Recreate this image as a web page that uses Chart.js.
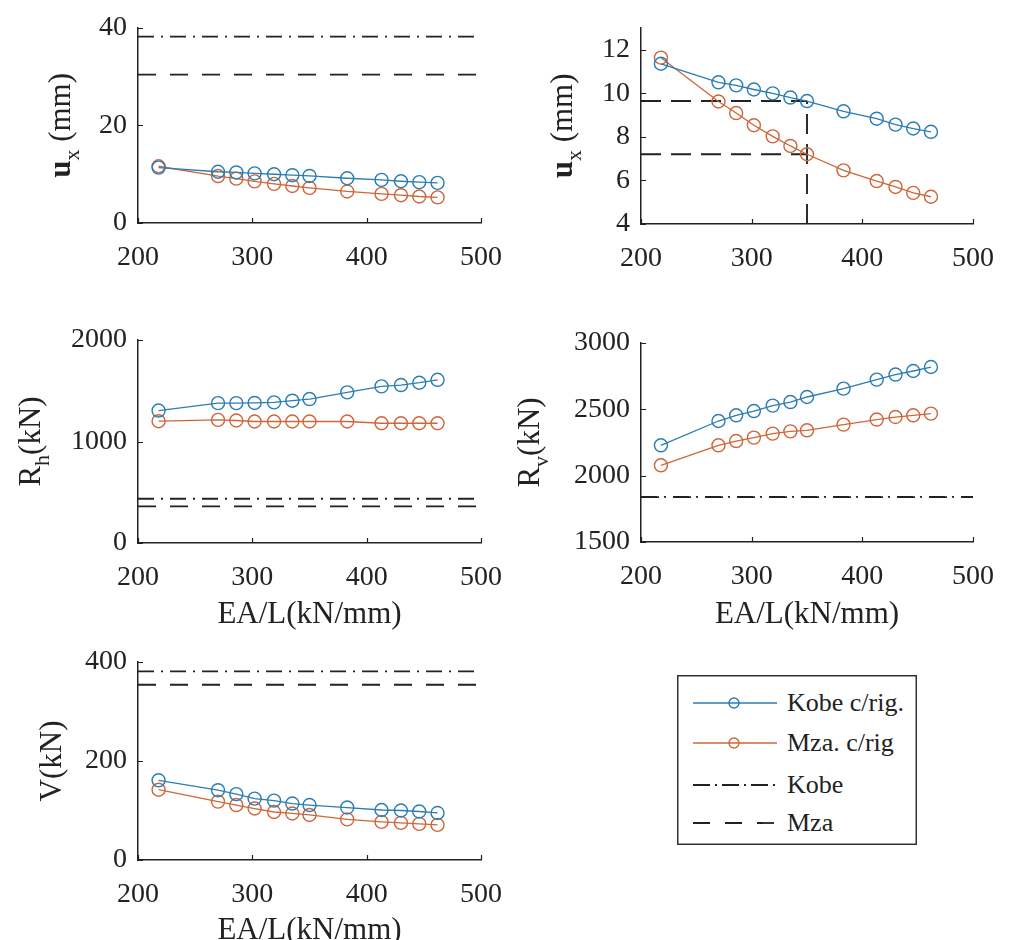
<!DOCTYPE html>
<html><head><meta charset="utf-8">
<script src="https://cdn.jsdelivr.net/npm/chart.js@4.4.1/dist/chart.umd.min.js"></script>
<style>
html,body{margin:0;padding:0;background:#fff;overflow:hidden;width:1012px;height:940px;}
canvas{position:absolute;}
#legend{position:absolute;left:677px;top:675px;width:240px;height:170px;}
</style></head><body>
<canvas id="cTL"></canvas>
<canvas id="cTR"></canvas>
<canvas id="cML"></canvas>
<canvas id="cMR"></canvas>
<canvas id="cBL"></canvas>
<svg id="legend" width="240" height="170" xmlns="http://www.w3.org/2000/svg">
  <rect x="0.75" y="0.75" width="238.5" height="168.5" fill="#fff" stroke="#333" stroke-width="1.5"/>
  <line x1="16" y1="28" x2="100" y2="28" stroke="#2a7db4" stroke-width="1.4"/>
  <circle cx="57" cy="28" r="5" fill="none" stroke="#2a7db4" stroke-width="1.4"/>
  <line x1="16" y1="68" x2="100" y2="68" stroke="#d0653a" stroke-width="1.4"/>
  <circle cx="57" cy="68" r="5" fill="none" stroke="#d0653a" stroke-width="1.4"/>
  <line x1="16" y1="110" x2="100" y2="110" stroke="#222" stroke-width="1.8" stroke-dasharray="17 5 2 5"/>
  <line x1="16" y1="148" x2="100" y2="148" stroke="#222" stroke-width="1.8" stroke-dasharray="17 15"/>
  <g style="font-family:'Times New Roman','Liberation Serif','DejaVu Serif',serif;font-size:26px" fill="#222" dominant-baseline="central">
    <text x="110" y="27">Kobe c/rig.</text>
    <text x="110" y="67">Mza. c/rig</text>
    <text x="110" y="109">Kobe</text>
    <text x="110" y="147">Mza</text>
  </g>
</svg>
<script>
// ---------- data ----------
const eaL = [218, 270, 286, 302, 319, 335, 350, 383, 413, 430, 446, 462];
const uxKobe = [11.35, 10.5, 10.36, 10.17, 9.99, 9.8, 9.64, 9.17, 8.83, 8.56, 8.38, 8.23];
const uxMza  = [11.63, 9.62, 9.09, 8.53, 8.02, 7.58, 7.2, 6.46, 5.97, 5.70, 5.43, 5.25];
const rhKobe = [1305, 1378, 1378, 1380, 1385, 1402, 1418, 1484, 1543, 1556, 1579, 1608];
const rhMza  = [1200, 1213, 1207, 1197, 1197, 1197, 1197, 1197, 1180, 1180, 1180, 1180];
const rvKobe = [2229, 2412, 2455, 2487, 2528, 2555, 2593, 2656, 2724, 2762, 2789, 2819];
const rvMza  = [2078, 2229, 2261, 2287, 2317, 2334, 2342, 2385, 2423, 2442, 2455, 2468];
const vKobe  = [161, 141, 133, 124, 120, 114, 111, 106, 101, 100, 98, 95];
const vMza   = [142, 118, 111, 104, 97, 94, 91, 82, 77, 75, 73, 71];
const uxLimit = [38.2, 30.4];   // [Kobe, Mza]
const rhLimit = [436, 361];
const rvLimit = [1840, 1838];
const vLimit  = [381, 354];
const guideX = 350;
const guideY = [9.64, 7.2];     // [Kobe c/rig at 350, Mza c/rig at 350]
const xRange = [200, 500];
const xTicks = [200, 300, 400, 500];
const uxTicksFull = [0, 20, 40];
const uxTicksZoom = [4, 6, 8, 10, 12];
const rhTicks = [0, 1000, 2000];
const rvTicks = [1500, 2000, 2500, 3000];
const vTicks  = [0, 200, 400];
const seriesNames = ['Kobe c/rig.', 'Mza. c/rig', 'Kobe', 'Mza'];

// ---------- style ----------
const BLUE = '#2a7db4', ORANGE = '#d0653a', DARK = '#222';
const FONT = "'Times New Roman', 'Liberation Serif', 'DejaVu Serif', serif";

const pts = (xs, ys) => xs.map((x, i) => ({x, y: ys[i]}));

const innerTicks = {
  id: 'innerTicks',
  afterDraw(chart) {
    const ctx = chart.ctx, a = chart.chartArea, sx = chart.scales.x, sy = chart.scales.y;
    ctx.save(); ctx.strokeStyle = DARK; ctx.lineWidth = 1.2; ctx.beginPath();
    sx.ticks.forEach(t => { const p = Math.round(sx.getPixelForValue(t.value)) + 0.5; ctx.moveTo(p, a.bottom); ctx.lineTo(p, a.bottom - 5); });
    sy.ticks.forEach(t => { const p = Math.round(sy.getPixelForValue(t.value)) + 0.5; ctx.moveTo(a.left, p); ctx.lineTo(a.left + 5, p); });
    ctx.stroke(); ctx.restore();
  }
};

const yTitle = {
  id: 'yTitle',
  afterDraw(chart, args, opts) {
    if (!opts || !opts.parts) return;
    const ctx = chart.ctx, a = chart.chartArea, size = opts.size || 31;
    const fontFor = p => (p.bold ? 'bold ' : '') + (p.sub ? Math.round(size * 0.7) : size) + 'px ' + FONT;
    ctx.save();
    ctx.translate(a.left + opts.dx, (a.top + a.bottom) / 2);
    ctx.rotate(-Math.PI / 2);
    let total = 0;
    const ws = opts.parts.map(p => { ctx.font = fontFor(p); const w = ctx.measureText(p.t).width; total += w; return w; });
    let x = -total / 2;
    ctx.fillStyle = DARK; ctx.textBaseline = 'alphabetic'; ctx.textAlign = 'left';
    const base = size * 0.3;
    opts.parts.forEach((p, i) => { ctx.font = fontFor(p); ctx.fillText(p.t, x, p.sub ? base + size * 0.28 : base); x += ws[i]; });
    ctx.restore();
  }
};

function dataset(label, ys, color) {
  return { label, data: pts(eaL, ys), showLine: true, borderColor: color, backgroundColor: 'rgba(0,0,0,0)',
    borderWidth: 1.3, pointRadius: 6.5, pointBorderWidth: 1.4, pointBorderColor: color, pointBackgroundColor: 'rgba(0,0,0,0)', pointStyle: 'circle' };
}
function hline(label, v, dash, x0, x1) {
  return { label, data: [{x: x0 ?? xRange[0], y: v}, {x: x1 ?? xRange[1], y: v}], showLine: true, borderColor: DARK,
    borderWidth: 1.9, borderDash: dash, pointRadius: 0 };
}
const DASHDOT = [16, 7, 2, 7], DASHED = [18, 14], GUIDE = [20, 10];

function makeChart(id, c) {
  const cv = document.getElementById(id);
  cv.width = c.w; cv.height = c.h;
  cv.style.left = c.l + 'px'; cv.style.top = c.t + 'px';
  cv.style.width = c.w + 'px'; cv.style.height = c.h + 'px';
  const yW = c.area[0] - c.l, padR = c.l + c.w - c.area[2], padT = c.area[1] - c.t, xH = c.t + c.h - c.area[3];
  const tickFont = { family: FONT, size: 28 };
  new Chart(cv, {
    type: 'scatter',
    data: { datasets: c.datasets },
    plugins: [innerTicks, yTitle],
    options: {
      responsive: false, animation: false, devicePixelRatio: 1,
      layout: { padding: { top: padT, right: padR, left: 0, bottom: 0 } },
      plugins: { legend: { display: false }, tooltip: { enabled: false }, yTitle: c.yTitle },
      scales: {
        x: { type: 'linear', min: xRange[0], max: xRange[1],
          afterBuildTicks: s => { s.ticks = xTicks.map(v => ({value: v})); },
          afterFit: s => { s.height = xH; },
          grid: { display: false, drawTicks: false },
          border: { display: true, color: DARK, width: 1.5 },
          ticks: { font: tickFont, color: DARK, padding: 18, maxRotation: 0, autoSkip: false, callback: v => String(v) },
          title: c.xTitle ? { display: true, text: 'EA/L(kN/mm)', font: { family: FONT, size: 31 }, color: DARK, padding: { top: 0, bottom: c.xTitlePad } } : { display: false }
        },
        y: { type: 'linear', min: c.ymin, max: c.ymax,
          afterBuildTicks: s => { s.ticks = c.yticks.map(v => ({value: v})); },
          afterFit: s => { s.width = yW; },
          grid: { display: false, drawTicks: false },
          border: { display: true, color: DARK, width: 1.5 },
          ticks: { font: tickFont, color: DARK, padding: 11, autoSkip: false, callback: v => String(v) }
        }
      }
    }
  });
}

makeChart('cTL', { l: 0, t: 0, w: 520, h: 300, area: [138, 22, 487, 223], ymin: 0, ymax: 40, yticks: uxTicksFull,
  yTitle: { dx: -77, parts: [{t: 'u', bold: true}, {t: 'x', sub: true}, {t: ' (mm)'}] },
  datasets: [dataset(seriesNames[0], uxKobe, BLUE), dataset(seriesNames[1], uxMza, ORANGE),
    hline(seriesNames[2], uxLimit[0], DASHDOT), hline(seriesNames[3], uxLimit[1], DASHED)] });

makeChart('cTR', { l: 495, t: 0, w: 517, h: 300, area: [641, 22, 989, 224], ymin: 4, ymax: 13, yticks: uxTicksZoom,
  yTitle: { dx: -78, parts: [{t: 'u', bold: true}, {t: 'x', sub: true}, {t: ' (mm)'}] },
  datasets: [dataset(seriesNames[0], uxKobe, BLUE), dataset(seriesNames[1], uxMza, ORANGE),
    hline('guide Kobe', guideY[0], GUIDE, xRange[0], guideX), hline('guide Mza', guideY[1], GUIDE, xRange[0], guideX),
    { label: 'guide x', data: [{x: guideX, y: 4}, {x: guideX, y: guideY[0]}], showLine: true, borderColor: DARK, borderWidth: 1.9, borderDash: GUIDE, pointRadius: 0 }] });

makeChart('cML', { l: 0, t: 305, w: 520, h: 335, area: [138, 340, 487, 543], ymin: 0, ymax: 2000, yticks: rhTicks,
  xTitle: true, xTitlePad: 7,
  yTitle: { dx: -107, parts: [{t: 'R'}, {t: 'h', sub: true}, {t: '(kN)'}] },
  datasets: [dataset(seriesNames[0], rhKobe, BLUE), dataset(seriesNames[1], rhMza, ORANGE),
    hline(seriesNames[2], rhLimit[0], DASHDOT), hline(seriesNames[3], rhLimit[1], DASHED)] });

makeChart('cMR', { l: 495, t: 305, w: 517, h: 335, area: [641, 343, 989, 542], ymin: 1500, ymax: 3000, yticks: rvTicks,
  xTitle: true, xTitlePad: 7,
  yTitle: { dx: -111, parts: [{t: 'R'}, {t: 'v', sub: true}, {t: '(kN)'}] },
  datasets: [dataset(seriesNames[0], rvKobe, BLUE), dataset(seriesNames[1], rvMza, ORANGE),
    hline(seriesNames[3], rvLimit[1], DASHED), hline(seriesNames[2], rvLimit[0], DASHDOT)] });

makeChart('cBL', { l: 0, t: 625, w: 520, h: 335, area: [138, 662, 487, 860], ymin: 0, ymax: 400, yticks: vTicks,
  xTitle: true, xTitlePad: 11,
  yTitle: { dx: -86, parts: [{t: 'V(kN)'}] },
  datasets: [dataset(seriesNames[0], vKobe, BLUE), dataset(seriesNames[1], vMza, ORANGE),
    hline(seriesNames[2], vLimit[0], DASHDOT), hline(seriesNames[3], vLimit[1], DASHED)] });
</script>
</body></html>
